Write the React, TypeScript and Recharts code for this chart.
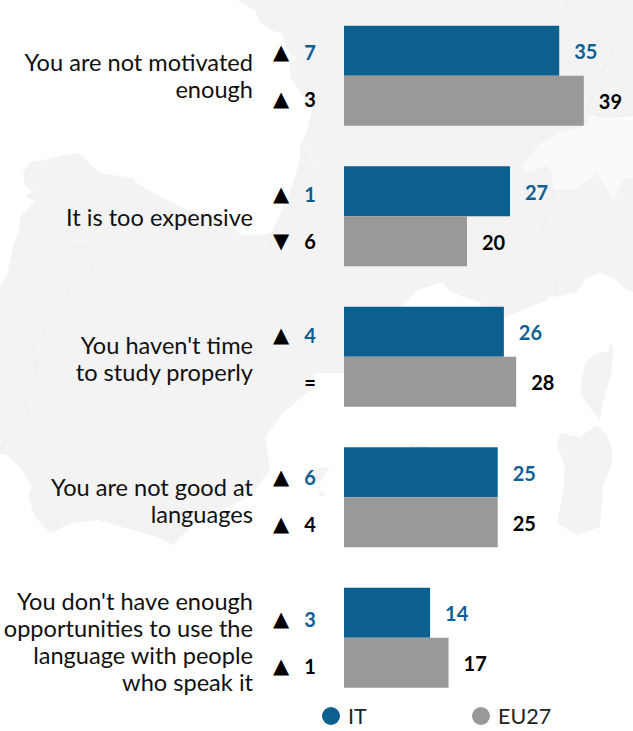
import { BarChart, Bar, XAxis, YAxis, Legend, LabelList } from "recharts";

const categories = [
  "You are not motivated\nenough",
  "It is too expensive",
  "You haven't time\nto study properly",
  "You are not good at\nlanguages",
  "You don't have enough\nopportunities to use the\nlanguage with people\nwho speak it",
];
const itValues = [35, 27, 26, 25, 14];
const euValues = [39, 20, 28, 25, 17];
const itChange = [7, 1, 4, 6, 3];
const euChange = [3, 6, 0, 4, 1];
const itTrend = ["up", "up", "up", "up", "up"];
const euTrend = ["up", "down", "same", "up", "up"];

const BLUE = "#0b6090";
const GREY = "#999999";
const TEXT_BLUE = "#0f6092";
const FONT = "Lato, 'Open Sans', sans-serif";

const data = categories.map((name, i) => ({ name, IT: itValues[i], EU27: euValues[i] }));

// the row text sits a little lower than the bars as you go down
const drift = (i: number) => 0.5 + i * 1.1;

function CategoryTick({ y, payload, index }: any) {
  const lines = String(payload.value).split("\n");
  const top = y + drift(index) - ((lines.length - 1) * 27) / 2;
  return (
    <text textAnchor="end" fontFamily={FONT} fontSize={23.6} fill="#111">
      {lines.map((line, i) => (
        <tspan key={i} x={253} y={top + i * 27 + 8}>
          {line}
        </tspan>
      ))}
    </text>
  );
}

function changeLabel(change: number[], trend: string[], color: string, shift: number) {
  return ({ y, height, index }: any) => {
    const cy = y + height / 2 + drift(index) + shift;
    const dir = trend[index];
    if (dir === "same") {
      return (
        <text x={310} y={cy + 7} textAnchor="middle" fontFamily={FONT} fontSize={20} fontWeight={700} fill="#000">
          =
        </text>
      );
    }
    return (
      <g>
        <text x={281} y={cy + 6} textAnchor="middle" fontFamily="'DejaVu Sans'" fontSize={21} fill="#000">
          {dir === "up" ? "▲" : "▼"}
        </text>
        <text x={310} y={cy + 7} textAnchor="middle" fontFamily={FONT} fontSize={20} fontWeight={700} fill={color}>
          {change[index]}
        </text>
      </g>
    );
  };
}

function LegendRow({ payload }: any) {
  return (
    <div style={{ position: "relative", height: 24, fontFamily: FONT, fontSize: 21.5, color: "#222" }}>
      {(payload || []).map((item: any, i: number) => (
        <div key={item.value} style={{ position: "absolute", left: 322 + i * 150, top: 0, display: "flex", alignItems: "center", height: 24 }}>
          <span style={{ width: 18, height: 18, borderRadius: 9, background: item.color, marginRight: 8 }} />
          {item.value}
        </div>
      ))}
    </div>
  );
}

// faint map of France, Iberia and the islands behind the chart
function MapBackdrop() {
  const land = "#f3f3f3";
  const border = "#ececec";
  return (
    <svg width={633} height={731} style={{ position: "absolute", left: 0, top: 0 }}>
      <path
        fill={land}
        d="M237 0L245 5L255 10L260 22L270 30L282 33L285 45L290 55L298 58L290 63L290 78L298 88L307 103L312 110L307 130L300 147L300 160L293 183L288 197L283 207L272 232L267 234L243 235L217 218L187 210L157 195L137 183L133 178L100 173L78 153L63 155L43 160L30 162L23 173L25 185L33 192L25 195L35 202L27 210L20 217L20 227L13 247L7 275L0 287L0 454L7 455L20 467L32 487L28 497L35 517L50 533L73 523L97 520L133 530L157 537L173 545L190 527L213 513L237 503L253 493L270 470L267 450L265 437L283 413L307 393L315 388L315 373L344 373L360 340L407 302L417 290L443 282L448 290L463 297L480 302L482 310L505 317L523 310L547 300L553 295L557 297L577 292L587 278L600 273L613 278L627 290L633 292L633 0Z"
      />
      <path
        fill="#fafafa"
        d="M633 115L607 118L590 115L586 126L560 132L540 143L522 167L527 173L547 165L552 173L553 190L573 190L597 173L603 182L613 200L623 180L633 177Z"
      />
      <path fill={land} d="M610 343L613 347L612 370L603 403L600 420L590 408L580 393L583 375L585 363L597 353L608 352Z" />
      <path fill={land} d="M597 425L607 435L612 450L612 463L603 487L600 527L577 535L557 523L563 493L565 467L557 447L560 433L580 437Z" />
      <path fill={land} d="M317 468L330 467L320 483L307 480Z" />
      <path fill={land} d="M320 491L325 495L323 497L318 493Z" />
      <path fill={land} d="M410 444L428 446L430 450L408 450Z" />
      <path fill="#fff" d="M300 117L302 116L306 130L303 132Z" />
      <path fill="#fff" d="M310 147L313 173L311 160Z" />
      <g fill="none" stroke={border} strokeWidth={1}>
        <path d="M267 243L280 257L290 273L303 285L330 285L345 292L370 300" />
        <path d="M42 222L43 233L63 245L87 248L93 270L70 287L63 310L45 323L43 340L33 347L37 373L23 397L28 415L10 430L2 450" />
        <path d="M553 190L555 210L540 227L547 243L542 260L557 277L555 297" />
        <path d="M532 0L537 5L550 13L565 13L567 0M565 13L577 27L597 40L613 50L600 77L587 110L603 117L633 115" />
      </g>
    </svg>
  );
}

export default function App() {
  return (
    <div style={{ position: "absolute", left: 0, top: 0, width: 633, height: 731, overflow: "hidden", background: "#fff" }}>
      <MapBackdrop />
      <div style={{ position: "absolute", left: 0, top: 0 }}>
        <BarChart
          width={633}
          height={731}
          data={data}
          layout="vertical"
          barSize={50}
          barGap={0}
          margin={{ top: 5.75, right: 0, bottom: 22.75, left: 0 }}
        >
          <XAxis type="number" domain={[0, 47]} hide />
          <YAxis
            type="category"
            dataKey="name"
            width={344}
            axisLine={false}
            tickLine={false}
            interval={0}
            tick={CategoryTick}
          />
          <Legend
            verticalAlign="middle"
            align="center"
            itemSorter={null}
            content={LegendRow}
            wrapperStyle={{ left: 0, top: 704, width: 633 }}
          />
          <Bar dataKey="IT" fill={BLUE} isAnimationActive={false}>
            <LabelList dataKey="IT" position="right" offset={15} dy={1.5} fontFamily={FONT} fontSize={20} fontWeight={700} fill={TEXT_BLUE} />
            <LabelList dataKey="IT" content={changeLabel(itChange, itTrend, TEXT_BLUE, 2)} />
          </Bar>
          <Bar dataKey="EU27" fill={GREY} isAnimationActive={false}>
            <LabelList dataKey="EU27" position="right" offset={15} dy={1.5} fontFamily={FONT} fontSize={20} fontWeight={700} fill="#000" />
            <LabelList dataKey="EU27" content={changeLabel(euChange, euTrend, "#000", -1)} />
          </Bar>
        </BarChart>
      </div>
    </div>
  );
}
